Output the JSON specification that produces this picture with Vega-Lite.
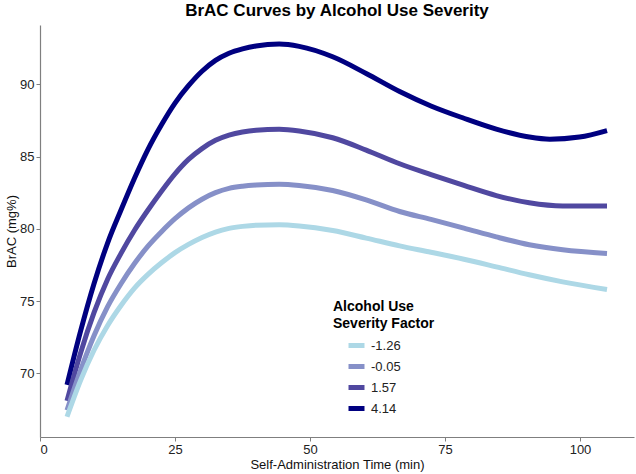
{
  "$schema": "https://vega.github.io/schema/vega-lite/v6.json",
  "width": 594,
  "height": 412,
  "autosize": {"type": "none"},
  "padding": {"left": 40, "top": 25, "right": 2, "bottom": 37},
  "background": "white",
  "config": {
    "font": "Liberation Sans",
    "view": {"stroke": null},
    "axis": {"grid": false, "domainColor": "#7f7f7f", "tickColor": "#7f7f7f", "labelColor": "#222222", "labelFontSize": 13, "titleFontSize": 13, "titleFontWeight": "normal", "titleColor": "#111111", "tickSize": 4, "domainWidth": 1.2}
  },
  "title": {"text": "BrAC Curves by Alcohol Use Severity", "fontSize": 17, "fontWeight": "bold", "anchor": "middle", "offset": 5, "color": "#000000"},
  "data": {"values": [
    {"t": 5, "brac": 69.2, "sev": "4.14"},
    {"t": 7.5, "brac": 72.9, "sev": "4.14"},
    {"t": 10, "brac": 76.2, "sev": "4.14"},
    {"t": 12.5, "brac": 79.0, "sev": "4.14"},
    {"t": 15, "brac": 81.3, "sev": "4.14"},
    {"t": 17.5, "brac": 83.5, "sev": "4.14"},
    {"t": 20, "brac": 85.5, "sev": "4.14"},
    {"t": 22.5, "brac": 87.2, "sev": "4.14"},
    {"t": 25, "brac": 88.7, "sev": "4.14"},
    {"t": 27.5, "brac": 89.9, "sev": "4.14"},
    {"t": 30, "brac": 90.9, "sev": "4.14"},
    {"t": 32.5, "brac": 91.65, "sev": "4.14"},
    {"t": 35, "brac": 92.15, "sev": "4.14"},
    {"t": 37.5, "brac": 92.45, "sev": "4.14"},
    {"t": 40, "brac": 92.65, "sev": "4.14"},
    {"t": 44.3, "brac": 92.78, "sev": "4.14"},
    {"t": 48, "brac": 92.62, "sev": "4.14"},
    {"t": 54.2, "brac": 91.9, "sev": "4.14"},
    {"t": 60.4, "brac": 90.75, "sev": "4.14"},
    {"t": 66.6, "brac": 89.5, "sev": "4.14"},
    {"t": 72.4, "brac": 88.5, "sev": "4.14"},
    {"t": 78.5, "brac": 87.65, "sev": "4.14"},
    {"t": 84.5, "brac": 86.9, "sev": "4.14"},
    {"t": 90.6, "brac": 86.35, "sev": "4.14"},
    {"t": 94.4, "brac": 86.2, "sev": "4.14"},
    {"t": 99.9, "brac": 86.35, "sev": "4.14"},
    {"t": 105, "brac": 86.8, "sev": "4.14"},

    {"t": 5, "brac": 68.1, "sev": "1.57"},
    {"t": 7.5, "brac": 71.4, "sev": "1.57"},
    {"t": 10, "brac": 74.2, "sev": "1.57"},
    {"t": 12.5, "brac": 76.5, "sev": "1.57"},
    {"t": 15, "brac": 78.3, "sev": "1.57"},
    {"t": 17.5, "brac": 79.9, "sev": "1.57"},
    {"t": 20, "brac": 81.3, "sev": "1.57"},
    {"t": 22.5, "brac": 82.6, "sev": "1.57"},
    {"t": 25, "brac": 83.8, "sev": "1.57"},
    {"t": 27.5, "brac": 84.8, "sev": "1.57"},
    {"t": 30, "brac": 85.55, "sev": "1.57"},
    {"t": 32.5, "brac": 86.12, "sev": "1.57"},
    {"t": 35, "brac": 86.48, "sev": "1.57"},
    {"t": 37.5, "brac": 86.7, "sev": "1.57"},
    {"t": 40, "brac": 86.82, "sev": "1.57"},
    {"t": 44.3, "brac": 86.88, "sev": "1.57"},
    {"t": 48, "brac": 86.77, "sev": "1.57"},
    {"t": 54.2, "brac": 86.3, "sev": "1.57"},
    {"t": 60.4, "brac": 85.45, "sev": "1.57"},
    {"t": 66.6, "brac": 84.5, "sev": "1.57"},
    {"t": 72.4, "brac": 83.75, "sev": "1.57"},
    {"t": 78.5, "brac": 83.0, "sev": "1.57"},
    {"t": 84.5, "brac": 82.3, "sev": "1.57"},
    {"t": 90.6, "brac": 81.8, "sev": "1.57"},
    {"t": 96.8, "brac": 81.58, "sev": "1.57"},
    {"t": 105, "brac": 81.58, "sev": "1.57"},

    {"t": 5, "brac": 67.45, "sev": "-0.05"},
    {"t": 7.5, "brac": 70.2, "sev": "-0.05"},
    {"t": 10, "brac": 72.6, "sev": "-0.05"},
    {"t": 12.5, "brac": 74.6, "sev": "-0.05"},
    {"t": 15, "brac": 76.2, "sev": "-0.05"},
    {"t": 17.5, "brac": 77.6, "sev": "-0.05"},
    {"t": 20, "brac": 78.8, "sev": "-0.05"},
    {"t": 22.5, "brac": 79.8, "sev": "-0.05"},
    {"t": 25, "brac": 80.7, "sev": "-0.05"},
    {"t": 27.5, "brac": 81.45, "sev": "-0.05"},
    {"t": 30, "brac": 82.05, "sev": "-0.05"},
    {"t": 32.5, "brac": 82.5, "sev": "-0.05"},
    {"t": 35, "brac": 82.8, "sev": "-0.05"},
    {"t": 37.5, "brac": 82.95, "sev": "-0.05"},
    {"t": 40, "brac": 83.03, "sev": "-0.05"},
    {"t": 44.3, "brac": 83.08, "sev": "-0.05"},
    {"t": 48, "brac": 83.0, "sev": "-0.05"},
    {"t": 54.2, "brac": 82.65, "sev": "-0.05"},
    {"t": 60.4, "brac": 82.0, "sev": "-0.05"},
    {"t": 66.6, "brac": 81.2, "sev": "-0.05"},
    {"t": 72.4, "brac": 80.65, "sev": "-0.05"},
    {"t": 78.5, "brac": 80.05, "sev": "-0.05"},
    {"t": 84.5, "brac": 79.44, "sev": "-0.05"},
    {"t": 90.6, "brac": 78.9, "sev": "-0.05"},
    {"t": 96.8, "brac": 78.55, "sev": "-0.05"},
    {"t": 105, "brac": 78.3, "sev": "-0.05"},

    {"t": 5, "brac": 67.0, "sev": "-1.26"},
    {"t": 7.5, "brac": 69.5, "sev": "-1.26"},
    {"t": 10, "brac": 71.6, "sev": "-1.26"},
    {"t": 12.5, "brac": 73.3, "sev": "-1.26"},
    {"t": 15, "brac": 74.7, "sev": "-1.26"},
    {"t": 17.5, "brac": 75.9, "sev": "-1.26"},
    {"t": 20, "brac": 76.85, "sev": "-1.26"},
    {"t": 22.5, "brac": 77.65, "sev": "-1.26"},
    {"t": 25, "brac": 78.35, "sev": "-1.26"},
    {"t": 27.5, "brac": 78.92, "sev": "-1.26"},
    {"t": 30, "brac": 79.4, "sev": "-1.26"},
    {"t": 32.5, "brac": 79.78, "sev": "-1.26"},
    {"t": 35, "brac": 80.03, "sev": "-1.26"},
    {"t": 37.5, "brac": 80.17, "sev": "-1.26"},
    {"t": 40, "brac": 80.25, "sev": "-1.26"},
    {"t": 44.3, "brac": 80.28, "sev": "-1.26"},
    {"t": 48, "brac": 80.2, "sev": "-1.26"},
    {"t": 54.2, "brac": 79.88, "sev": "-1.26"},
    {"t": 60.4, "brac": 79.36, "sev": "-1.26"},
    {"t": 66.6, "brac": 78.82, "sev": "-1.26"},
    {"t": 72.4, "brac": 78.38, "sev": "-1.26"},
    {"t": 78.5, "brac": 77.9, "sev": "-1.26"},
    {"t": 84.5, "brac": 77.37, "sev": "-1.26"},
    {"t": 90.6, "brac": 76.82, "sev": "-1.26"},
    {"t": 96.8, "brac": 76.33, "sev": "-1.26"},
    {"t": 105, "brac": 75.8, "sev": "-1.26"}
  ]},
  "mark": {"type": "line", "interpolate": "monotone", "strokeWidth": 5, "strokeCap": "butt"},
  "encoding": {
    "x": {"field": "t", "type": "quantitative", "title": "Self-Administration Time (min)",
          "scale": {"domain": [0, 110], "nice": false, "zero": false},
          "axis": {"values": [0, 25, 50, 75, 100], "titlePadding": 2}},
    "y": {"field": "brac", "type": "quantitative", "title": "BrAC (mg%)",
          "scale": {"domain": [65.6, 94.1], "nice": false, "zero": false},
          "axis": {"values": [70, 75, 80, 85, 90], "titlePadding": 1}},
    "color": {"field": "sev", "type": "nominal",
              "sort": ["-1.26", "-0.05", "1.57", "4.14"],
              "scale": {"domain": ["-1.26", "-0.05", "1.57", "4.14"], "range": ["#ADD8E6", "#8690C8", "#5048A0", "#000080"]},
              "legend": {"title": ["Alcohol Use", "Severity Factor"], "orient": "none", "legendX": 293, "legendY": 275,
                         "titleFontSize": 14, "titleFontWeight": "bold", "titleColor": "#000", "titleLineHeight": 17,
                         "labelFontSize": 13, "labelColor": "#222", "symbolType": "stroke", "symbolStrokeWidth": 5,
                         "symbolSize": 256, "symbolOffset": 13, "rowPadding": 0, "titlePadding": 4, "labelOffset": 4}},
    "order": {"field": "t", "type": "quantitative"}
  }
}
